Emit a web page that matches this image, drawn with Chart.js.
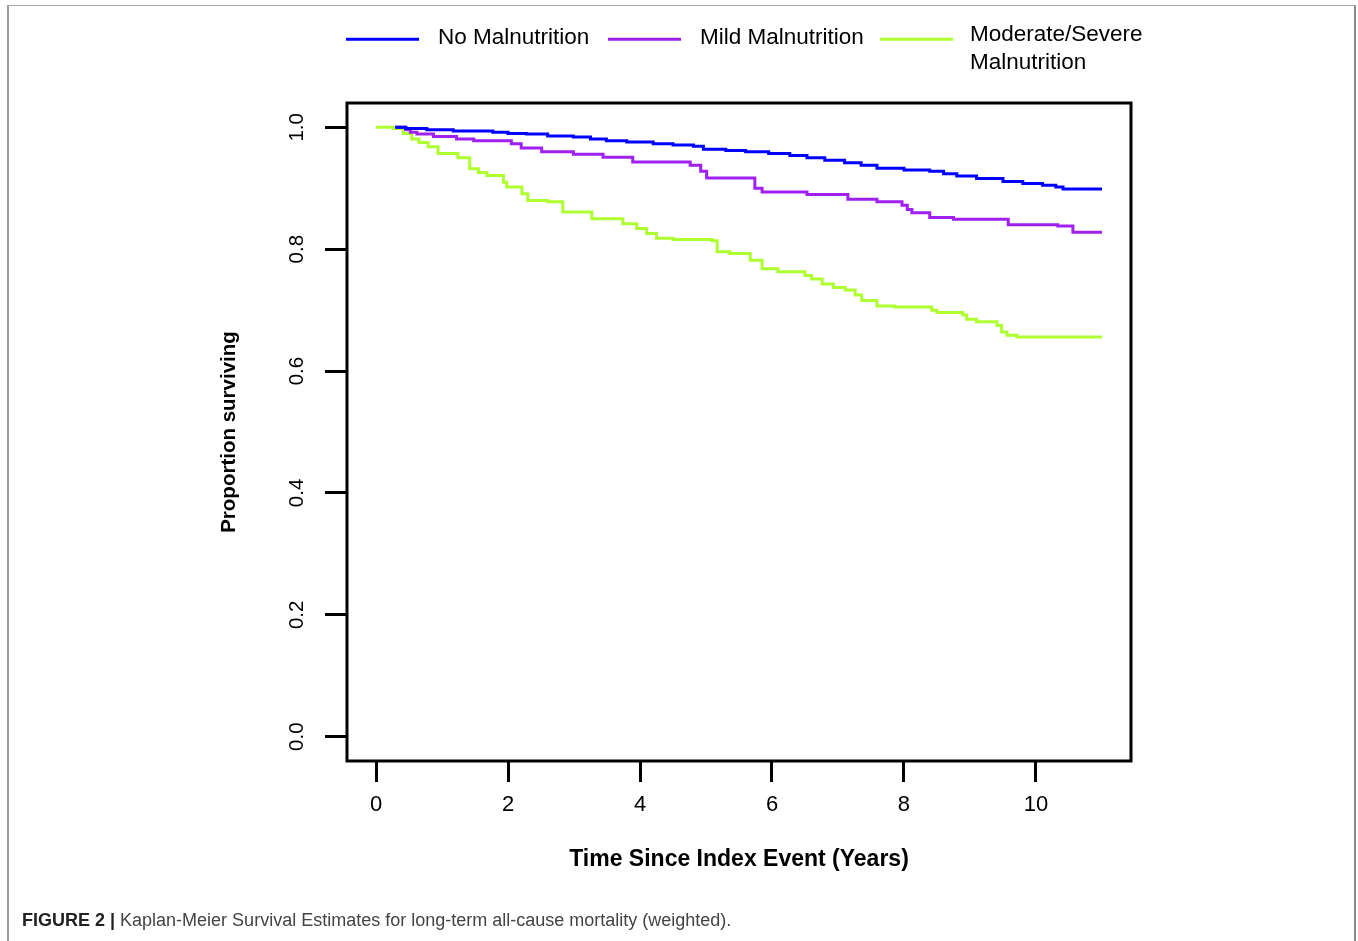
<!DOCTYPE html>
<html>
<head>
<meta charset="utf-8">
<script src="https://cdn.jsdelivr.net/npm/chart.js@4.4.0/dist/chart.umd.min.js"></script>
<style>
  body { margin: 0; background: #fff; }
  #wrap { position: relative; width: 1358px; height: 941px; overflow: hidden; }
  #frame { position: absolute; left: 7px; top: 5px; width: 1345px; height: 980px;
           border-top: 1px solid #aaa; border-left: 2px solid #999; border-right: 2px solid #888; }
  #caption { position: absolute; left: 22px; top: 910px; font-family: "Liberation Sans", Arial, sans-serif;
             font-size: 18px; color: #444; white-space: nowrap; }
  #caption b { color: #222; }
  canvas { position: absolute; left: 0; top: 0; }
</style>
</head>
<body>
<div id="wrap">
  <div id="frame"></div>
  <canvas id="kmChart" width="1358" height="941"></canvas>
  <div id="caption"><b>FIGURE 2 |</b> Kaplan-Meier Survival Estimates for long-term all-cause mortality (weighted).</div>
</div>
<script>
// axis ticks
const xTicks = [0, 2, 4, 6, 8, 10]
const yTicks = [0, 0.2, 0.4, 0.6, 0.8, 1.0]

const seriesNames = ["No Malnutrition", "Mild Malnutrition", "Moderate/Severe Malnutrition"]
const legendLines = [["No Malnutrition"], ["Mild Malnutrition"], ["Moderate/Severe", "Malnutrition"]]

// survival curves (years, proportion)
const noMalTime = [0.29, 0.45, 0.77, 1.17, 1.77, 2.0, 2.28, 2.6, 2.99, 3.25, 3.49, 3.8, 4.2, 4.5, 4.81, 4.96,
  5.3, 5.6, 5.95, 6.27, 6.53, 6.8, 7.1, 7.35, 7.59, 8.0, 8.39, 8.6, 8.8, 9.1, 9.5, 9.8, 10.1, 10.3, 10.41, 11.0]
const noMalSurv = [1.0, 0.998, 0.996, 0.994, 0.992, 0.990, 0.989, 0.986, 0.984, 0.981, 0.978, 0.976, 0.973, 0.971, 0.969, 0.964,
  0.962, 0.960, 0.957, 0.954, 0.950, 0.946, 0.942, 0.938, 0.933, 0.930, 0.928, 0.924, 0.920, 0.916, 0.911, 0.908, 0.905, 0.902, 0.899, 0.899]

const mildTime = [0.29, 0.45, 0.52, 0.62, 0.87, 1.22, 1.48, 2.05, 2.2, 2.51, 2.99, 3.44, 3.89, 4.76, 4.92, 5.01,
  5.74, 5.85, 6.53, 7.15, 7.59, 7.97, 8.05, 8.12, 8.39, 8.75, 9.58, 10.33, 10.56, 11.0]
const mildSurv = [1.0, 0.996, 0.992, 0.989, 0.985, 0.981, 0.978, 0.973, 0.966, 0.960, 0.956, 0.951, 0.943, 0.938, 0.928, 0.917,
  0.900, 0.894, 0.890, 0.882, 0.878, 0.872, 0.865, 0.860, 0.852, 0.849, 0.840, 0.838, 0.828, 0.828]

const modSevTime = [0, 0.26, 0.41, 0.54, 0.65, 0.79, 0.94, 1.24, 1.42, 1.55, 1.68, 1.93, 1.98, 2.21, 2.30, 2.6, 2.83,
  3.27, 3.74, 3.95, 4.1, 4.25, 4.5, 5.09, 5.17, 5.36, 5.67, 5.85, 6.09, 6.50, 6.6, 6.76, 6.93, 7.11, 7.26, 7.36,
  7.59, 7.86, 8.42, 8.5, 8.89, 8.95, 9.1, 9.41, 9.48, 9.56, 9.71, 11.0]
const modSevSurv = [1.0, 0.998, 0.990, 0.981, 0.975, 0.968, 0.957, 0.950, 0.932, 0.926, 0.921, 0.910, 0.902, 0.891, 0.880, 0.878, 0.861,
  0.850, 0.842, 0.834, 0.826, 0.818, 0.816, 0.814, 0.796, 0.793, 0.782, 0.768, 0.763, 0.757, 0.751, 0.743, 0.737, 0.733, 0.725, 0.716,
  0.707, 0.705, 0.700, 0.696, 0.692, 0.685, 0.681, 0.675, 0.664, 0.659, 0.656, 0.656]

const FONT = "'Liberation Sans', Arial, Helvetica, sans-serif"

const toPoints = (times, surv) => times.map((t, i) => ({ x: t, y: surv[i] }))

const curve = (label, times, surv, color) => ({
  type: "line",
  label: label,
  data: toPoints(times, surv),
  borderColor: color,
  borderWidth: 3,
  pointRadius: 0,
  stepped: true,
  fill: false
})

// R-style box round the plot region
const boxPlugin = {
  id: "rbox",
  afterDatasetsDraw(chart) {
    const { ctx, chartArea: a } = chart
    ctx.save()
    ctx.strokeStyle = "#000"
    ctx.lineWidth = 3
    ctx.strokeRect(a.left, a.top, a.right - a.left, a.bottom - a.top)
    ctx.restore()
  }
}

// legend in the top margin, like R's horizontal legend
const legendPlugin = {
  id: "rlegend",
  afterDraw(chart) {
    const ctx = chart.ctx
    const starts = [346, 608, 880]
    ctx.save()
    ctx.font = "22.5px " + FONT
    ctx.fillStyle = "#000"
    ctx.textBaseline = "alphabetic"
    chart.data.datasets.forEach((ds, i) => {
      ctx.strokeStyle = ds.borderColor
      ctx.lineWidth = 3
      ctx.beginPath()
      ctx.moveTo(starts[i], 39.3)
      ctx.lineTo(starts[i] + 73, 39.3)
      ctx.stroke()
      const lines = legendLines[i]
      if (lines.length == 1) {
        ctx.fillText(lines[0], starts[i] + 92, 44.3)
      } else {
        ctx.fillText(lines[0], starts[i] + 90, 40.5)
        ctx.fillText(lines[1], starts[i] + 90, 68.5)
      }
    })
    ctx.restore()
  }
}

const config = {
  data: {
    datasets: [
      curve(seriesNames[0], noMalTime, noMalSurv, "#0000ff"),
      curve(seriesNames[1], mildTime, mildSurv, "#a020f0"),
      curve(seriesNames[2], modSevTime, modSevSurv, "#adff2f")
    ]
  },
  options: {
    responsive: false,
    animation: false,
    layout: {
      padding: { left: 217.2, right: 227, top: 103, bottom: 67.7 }
    },
    scales: {
      x: {
        type: "linear",
        min: -0.44,
        max: 11.44,
        afterBuildTicks: s => { s.ticks = xTicks.map(v => ({ value: v })) },
        afterFit: s => { s.height = 112.3 },
        grid: { drawOnChartArea: false, drawTicks: true, tickLength: 21, tickWidth: 3, tickColor: "#000" },
        border: { display: false },
        ticks: {
          color: "#000",
          padding: 10,
          maxRotation: 0,
          font: { family: FONT, size: 22 },
          callback: v => String(v)
        },
        title: {
          display: true,
          text: "Time Since Index Event (Years)",
          color: "#000",
          padding: 0,
          font: { family: FONT, size: 23, weight: "bold" }
        }
      },
      y: {
        type: "linear",
        min: -0.04,
        max: 1.04,
        afterBuildTicks: s => { s.ticks = yTicks.map(v => ({ value: v })) },
        afterFit: s => { s.width = 129.8 },
        grid: { drawOnChartArea: false, drawTicks: true, tickLength: 22, tickWidth: 3, tickColor: "#000" },
        border: { display: false },
        ticks: {
          color: "#000",
          padding: 13.5,
          minRotation: 90,
          maxRotation: 90,
          crossAlign: "center",
          font: { family: FONT, size: 20.5 },
          callback: v => v.toFixed(1)
        },
        title: {
          display: true,
          text: "Proportion surviving",
          color: "#000",
          padding: 0,
          font: { family: FONT, size: 20.5, weight: "bold" }
        }
      }
    },
    plugins: {
      legend: { display: false },
      tooltip: { enabled: false }
    }
  },
  plugins: [boxPlugin, legendPlugin]
}

new Chart(document.getElementById("kmChart"), config)
</script>
</body>
</html>
